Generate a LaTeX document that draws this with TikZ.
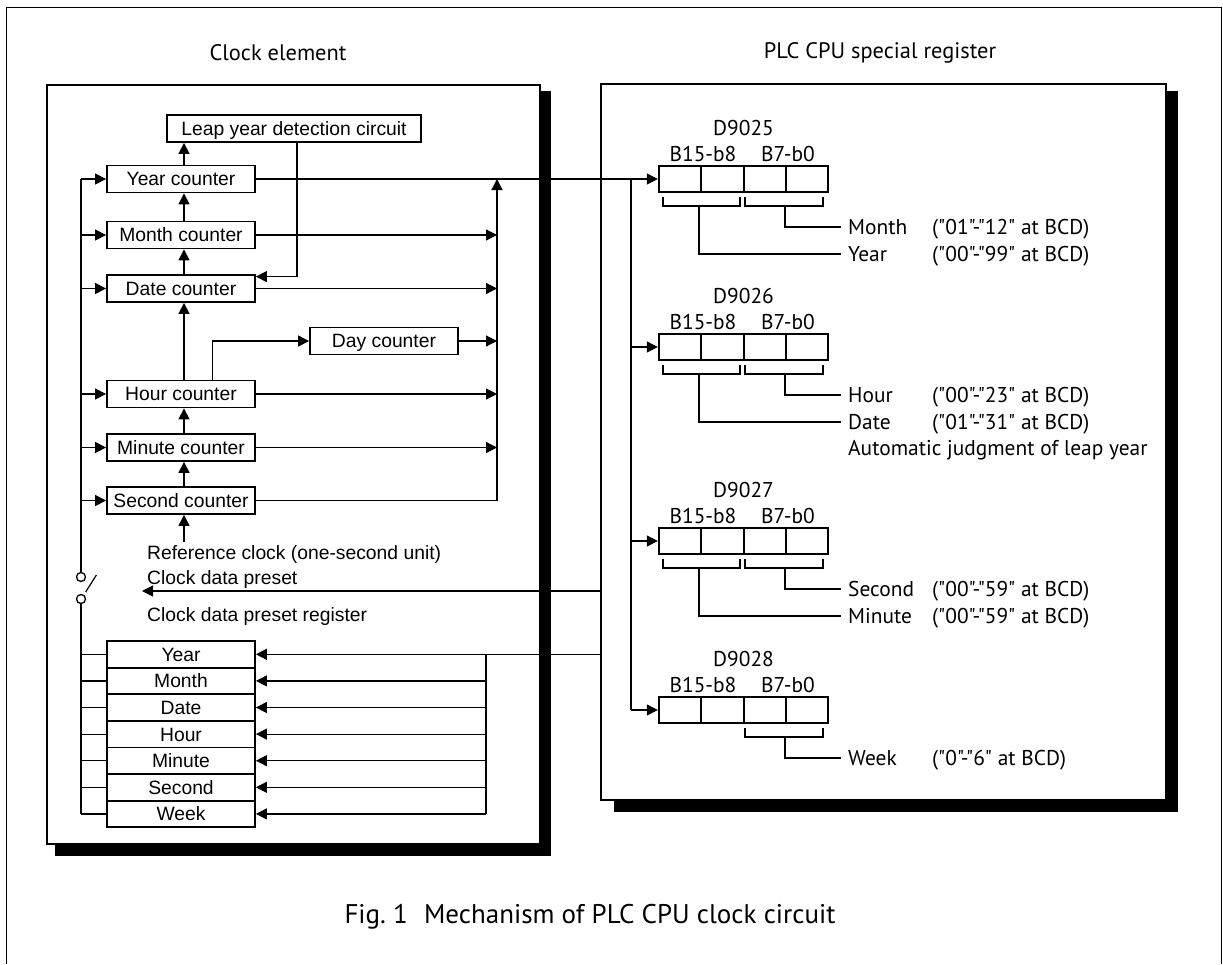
\documentclass[tikz,border=0pt]{standalone}
\usepackage{fontspec}
\setmainfont{Liberation Sans}
\newfontfamily\hfont{PT Sans}
\usetikzlibrary{arrows.meta}
\begin{document}
\begin{tikzpicture}[x=1pt,y=-1pt,
  lf/.style={font=\fontsize{19.3}{22}\selectfont},
  rf/.style={font=\hfont\fontsize{21.4}{24}\selectfont},
  tf/.style={font=\hfont\fontsize{22.4}{26}\selectfont},
  cbox/.style={draw, line width=1.8pt, minimum width=148pt, minimum height=27pt, inner sep=0pt, text height=13.8pt, text depth=0pt, lf},
  prow/.style={draw, line width=1.8pt, minimum width=148pt, minimum height=26.6pt, inner sep=0pt, text height=13.8pt, text depth=0pt, lf},
  wire/.style={line width=1.2pt},
  arr/.style={wire, -{Triangle[length=11pt,width=11pt]}},
  reg/.style={draw, line width=2.4pt, minimum width=169pt, minimum height=26pt, inner sep=0pt},
  brk/.style={line width=1.8pt},
  panel/.style={draw, fill=white, line width=1.5pt},
  rlab/.style={anchor=base west, inner sep=0pt, rf},
  llab/.style={anchor=base west, inner sep=0pt, lf},
]
\useasboundingbox (0,0) rectangle (1223,964);
\fill[white] (0,0) rectangle (1223,964);
% outer frame
\draw[line width=1.5pt] (6.5,964) -- (6.5,7.5) -- (1221.5,7.5) -- (1221.5,964);
% shadows and panels
\fill[black] (55,91) rectangle (551,856);
\fill[black] (614,91) rectangle (1178,812);
\draw[panel] (47,85) rectangle (540,844);
\draw[panel] (601,84) rectangle (1166,800);
% titles
\node[tf] (t1) at (278,53) {Clock element};
\node[tf] (t2) at (880,53) {PLC CPU special register};
\node[font=\hfont\fontsize{27}{30}\selectfont] (cap) at (590,917) {Fig.~1\hspace{0.6em}Mechanism of PLC CPU clock circuit};

% counters
\node[cbox, minimum width=254pt] (leap) at (294,128.5) {Leap year detection circuit};
\node[cbox] (yc) at (181,179) {Year counter};
\node[cbox] (mc) at (181,235) {Month counter};
\node[cbox] (dc) at (181,288.5) {Date counter};
\node[cbox] (dyc) at (384,341) {Day counter};
\node[cbox] (hc) at (181,394) {Hour counter};
\node[cbox] (mic) at (181,447.5) {Minute counter};
\node[cbox] (sc) at (181,500.5) {Second counter};

\coordinate (ax) at (184,0);
\coordinate (fb) at (81,0);
\coordinate (col) at (497,0);
\coordinate (lp) at (297,0);
\coordinate (hd) at (212.5,0);
\coordinate (bus) at (631,0);
\coordinate (pb) at (486,0);
\coordinate (rp) at (602,0);

% carry chain
\draw[arr] (yc.north -| ax) -- (leap.south -| ax);
\draw[arr] (mc.north -| ax) -- (yc.south -| ax);
\draw[arr] (dc.north -| ax) -- (mc.south -| ax);
\draw[arr] (hc.north -| ax) -- (dc.south -| ax);
\draw[arr] (mic.north -| ax) -- (hc.south -| ax);
\draw[arr] (sc.north -| ax) -- (mic.south -| ax);
\draw[arr] (leap.south -| lp) |- ([yshift=-2.5pt]dc.north east);
\draw[arr] (hc.north -| hd) |- (dyc.west);

% outputs to collector
\foreach \n in {mc,dc,dyc,hc,mic} \draw[arr] (\n.east) -- (\n -| col);
\draw[arr] (sc.east) -- (sc -| col) -- (yc -| col);

% switch and feedback
\node[circle, draw, line width=1.3pt, minimum size=9pt, inner sep=0pt] (sw1) at (81,577) {};
\node[circle, draw, line width=1.3pt, minimum size=9pt, inner sep=0pt] (sw2) at (81,599) {};
\draw[wire] (85.7,592) -- (96.4,575);
\draw[wire] (yc -| fb) -- (sw1.north);
\foreach \n in {yc,mc,dc,hc,mic,sc} \draw[arr] (\n -| fb) -- (\n.west);

% reference clock
\coordinate (refin) at (184,542);
\draw[arr] (refin) -- (sc.south -| refin);
\node[llab] (reft) at (147,559) {Reference clock (one-second unit)};
\node[llab] (cdp) at (147,584) {Clock data preset};
\node[llab] (cdpr) at (147,621) {Clock data preset register};
\coordinate (cdpR) at (602,591);
\coordinate (cdpL) at (142,591);
\draw[arr] (cdpR) -- (cdpL);

% preset register
\node[prow] (pY) at (181,654.3) {Year};
\node[prow] (pM) at (181,680.9) {Month};
\node[prow] (pD) at (181,707.5) {Date};
\node[prow] (pH) at (181,734.1) {Hour};
\node[prow] (pMi) at (181,760.7) {Minute};
\node[prow] (pS) at (181,787.3) {Second};
\node[prow] (pW) at (181,813.9) {Week};
\draw[wire] (sw2.south) -- (pW -| fb);
\foreach \n in {pY,pM,pD,pH,pMi,pS,pW} \draw[wire] (\n -| fb) -- (\n.west);
\draw[wire] (pY -| pb) -- (pW -| pb);
\draw[arr] (pY -| rp) -- (pY.east);
\foreach \n in {pM,pD,pH,pMi,pS,pW} \draw[arr] (\n -| pb) -- (\n.east);

% registers
\node[reg] (r1) at (743.5,179) {};
\node[reg] (r2) at (743.5,347) {};
\node[reg] (r3) at (743.5,541) {};
\node[reg] (r4) at (743.5,710) {};
\foreach \r in {r1,r2,r3,r4} {
  \draw[line width=2pt] ([xshift=-42.25pt]\r.north) -- ([xshift=-42.25pt]\r.south);
  \draw[line width=2pt] (\r.north) -- (\r.south);
  \draw[line width=2pt] ([xshift=42.25pt]\r.north) -- ([xshift=42.25pt]\r.south);
}
\draw[arr] (yc.east) -- (r1.west);
\draw[wire] (yc -| bus) -- (r4 -| bus);
\draw[arr] (r4 -| bus) -- (r4.west);
\draw[arr] (r2 -| bus) -- (r2.west);
\draw[arr] (r3 -| bus) -- (r3.west);

% D9025
\node[rf] (d1) at (743.5,128) {D9025};
\node[rf] (b1a) at (703,154) {B15-b8};
\node[rf] (b1b) at (788,154) {B7-b0};
\draw[brk] (663,197) -- (663,206) -- (740,206) -- (740,197);
\draw[brk] (745,197) -- (745,206) -- (823,206) -- (823,197);
\node[rlab] (m1) at (848,234) {Month};
\node[rlab] (m1v) at (932,234) {("01"-"12" at BCD)};
\node[rlab] (y1) at (848,261) {Year};
\node[rlab] (y1v) at (932,261) {("00"-"99" at BCD)};
\draw[brk] (785,206) |- ([shift={(-7,-7)}]m1.base west);
\draw[brk] (699,206) |- ([shift={(-7,-7)}]y1.base west);

% D9026
\node[rf] (d2) at (743.5,296) {D9026};
\node[rf] (b2a) at (703,322) {B15-b8};
\node[rf] (b2b) at (788,322) {B7-b0};
\draw[brk] (663,365) -- (663,374) -- (740,374) -- (740,365);
\draw[brk] (745,365) -- (745,374) -- (823,374) -- (823,365);
\node[rlab] (h2) at (848,402) {Hour};
\node[rlab] (h2v) at (932,402) {("00"-"23" at BCD)};
\node[rlab] (dt2) at (848,429) {Date};
\node[rlab] (dt2v) at (932,429) {("01"-"31" at BCD)};
\node[rlab] (au2) at (848,455) {Automatic judgment of leap year};
\draw[brk] (785,374) |- ([shift={(-7,-7)}]h2.base west);
\draw[brk] (699,374) |- ([shift={(-7,-7)}]dt2.base west);

% D9027
\node[rf] (d3) at (743.5,490) {D9027};
\node[rf] (b3a) at (703,516) {B15-b8};
\node[rf] (b3b) at (788,516) {B7-b0};
\draw[brk] (663,559) -- (663,568) -- (740,568) -- (740,559);
\draw[brk] (745,559) -- (745,568) -- (823,568) -- (823,559);
\node[rlab] (s3) at (848,596) {Second};
\node[rlab] (s3v) at (932,596) {("00"-"59" at BCD)};
\node[rlab] (mi3) at (848,623) {Minute};
\node[rlab] (mi3v) at (932,623) {("00"-"59" at BCD)};
\draw[brk] (785,568) |- ([shift={(-7,-7)}]s3.base west);
\draw[brk] (699,568) |- ([shift={(-7,-7)}]mi3.base west);

% D9028
\node[rf] (d4) at (743.5,659) {D9028};
\node[rf] (b4a) at (703,685) {B15-b8};
\node[rf] (b4b) at (788,685) {B7-b0};
\draw[brk] (745,728) -- (745,737) -- (823,737) -- (823,728);
\node[rlab] (w4) at (848,765) {Week};
\node[rlab] (w4v) at (932,765) {("0"-"6" at BCD)};
\draw[brk] (785,737) |- ([shift={(-7,-7)}]w4.base west);
\end{tikzpicture}
\end{document}
